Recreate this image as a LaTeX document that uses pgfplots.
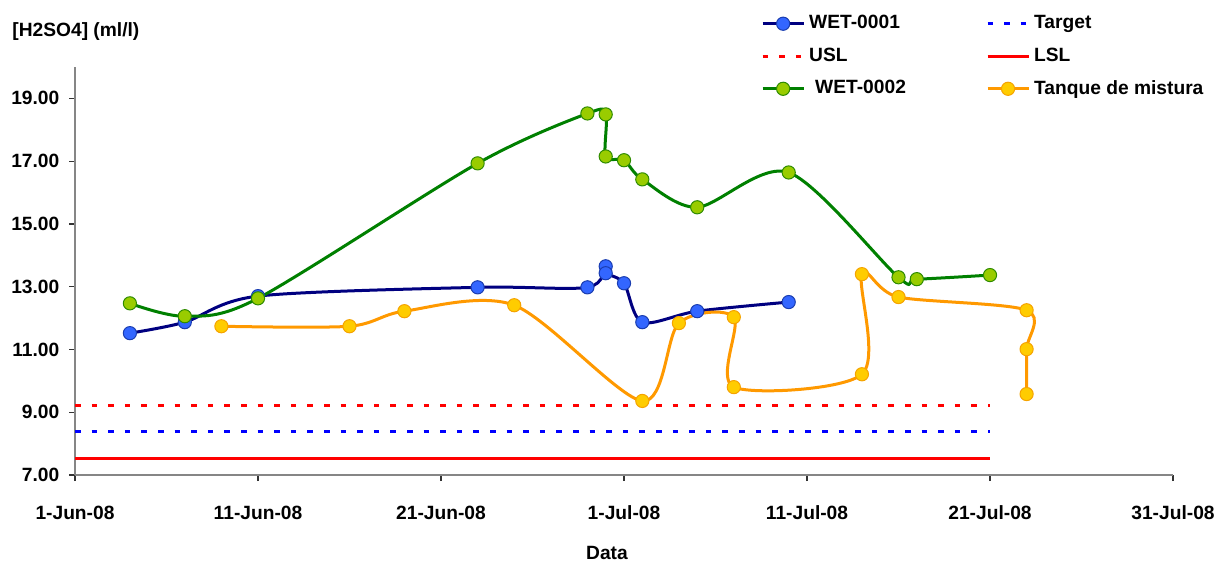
\documentclass[border=0pt]{standalone}
\usepackage{fontspec}
\setmainfont{Liberation Sans}
\usepackage{pgfplots}
\pgfplotsset{compat=1.18}

\definecolor{axisgray}{HTML}{868686}
\definecolor{wetoneline}{HTML}{000080}
\definecolor{wetonefill}{HTML}{3366FF}
\definecolor{wetonedraw}{HTML}{1A3DB0}
\definecolor{wettwoline}{HTML}{008000}
\definecolor{wettwofill}{HTML}{99CC00}
\definecolor{wettwodraw}{HTML}{2E8B00}
\definecolor{tankline}{HTML}{FF9900}
\definecolor{tankfill}{HTML}{FFCC00}
\definecolor{tankdraw}{HTML}{F5A300}

% days counted from 1-Jun-08 (day 0)
\pgfplotstableread{
day  val
3    11.52
6    11.87
10   12.70
22   12.98
28   12.98
29   13.65
29   13.43
30   13.11
31   11.87
34   12.22
39   12.51
}\wetone

\pgfplotstableread{
day  val
3    12.47
6    12.06
10   12.63
22   16.93
28   18.52
29   18.49
29   17.15
30   17.03
31   16.42
34   15.53
39   16.64
45   13.30
46   13.24
50   13.37
}\wettwo

\pgfplotstableread{
day  val
8    11.74
15   11.74
18   12.22
24   12.41
31   9.36
33   11.84
36   12.03
36   9.80
43   10.21
43   13.40
45   12.67
52   12.25
52   11.01
52   9.58
}\tank

\begin{document}
\begin{tikzpicture}[font=\fontsize{9.6}{11.5}\selectfont\bfseries]
\path[use as bounding box] (-37.5pt,-44.5pt) rectangle (577pt,237.5pt);
\begin{axis}[
  scale only axis,
  width=549pt, height=204pt,
  xmin=0, xmax=60, ymin=7, ymax=20,
  axis x line*=bottom, axis y line*=left,
  axis line style={draw=axisgray, line width=0.8pt, -},
  tick align=outside,
  major tick length=3pt,
  tick style={draw=black!80, line width=0.6pt},
  xtick={0,10,...,60},
  xticklabels={1-Jun-08,11-Jun-08,21-Jun-08,1-Jul-08,11-Jul-08,21-Jul-08,31-Jul-08},
  ytick={7,9,...,19},
  minor tick num=0,
  /pgf/number format/assume math mode=true,
  ticklabel style={font=\fontsize{9.6}{11.5}\selectfont\bfseries},
  xticklabel style={yshift=-9pt},
  yticklabel style={xshift=-1.3pt, /pgf/number format/.cd, fixed, fixed zerofill, precision=2},
  xlabel={Data},
  xlabel style={at={(axis description cs:0.4845,0)}, anchor=center, yshift=-39pt,
    font=\fontsize{9.6}{11.5}\selectfont\bfseries},
  legend columns=2,
  legend cell align=left,
  legend style={draw=none, fill=none, inner sep=0pt, outer sep=0pt,
    at={(0.6248,1.136)}, anchor=north west,
    font=\fontsize{9.6}{11.5}\selectfont\bfseries,
    row sep=4pt,
    /tikz/every even column/.append style={column sep=38pt}},
  legend image code/.code={%
    \draw[mark repeat=2, mark phase=2] plot coordinates {(0pt,0pt) (10.25pt,0pt) (20.5pt,0pt)};},
  every axis plot/.append style={smooth, tension=0.5},
]
% row 1 of the legend: WET-0001 and Target
\addplot[wetoneline, line width=1.5pt, mark=*, mark size=3.3pt,
  mark options={fill=wetonefill, draw=wetonedraw, line width=0.5pt}]
  table[x=day, y=val] {\wetone};
\addlegendentry{WET-0001}
\addplot[blue, line width=1.6pt, dash pattern=on 2.8pt off 5.5pt, sharp plot]
  coordinates {(0,8.38) (50,8.38)};
\addlegendentry{Target}
% row 2: USL and LSL
\addplot[red, line width=1.6pt, dash pattern=on 2.8pt off 5.5pt, sharp plot]
  coordinates {(0,9.21) (50,9.21)};
\addlegendentry{USL}
\addplot[red, line width=1.5pt, sharp plot]
  coordinates {(0,7.53) (50,7.53)};
\addlegendentry{LSL}
% row 3: WET-0002 and the mixing tank
\addplot[wettwoline, line width=1.5pt, mark=*, mark size=3.3pt,
  mark options={fill=wettwofill, draw=wettwodraw, line width=0.5pt}]
  table[x=day, y=val] {\wettwo};
\addlegendentry{\hspace{3pt}WET-0002}
\addplot[tankline, line width=1.5pt, mark=*, mark size=3.3pt,
  mark options={fill=tankfill, draw=tankdraw, line width=0.5pt}]
  table[x=day, y=val] {\tank};
\addlegendentry{Tanque de mistura}
\end{axis}
\node[anchor=west, inner sep=0pt] at (-31.5pt,221.5pt) {[H2SO4] (ml/l)};
\end{tikzpicture}
\end{document}
